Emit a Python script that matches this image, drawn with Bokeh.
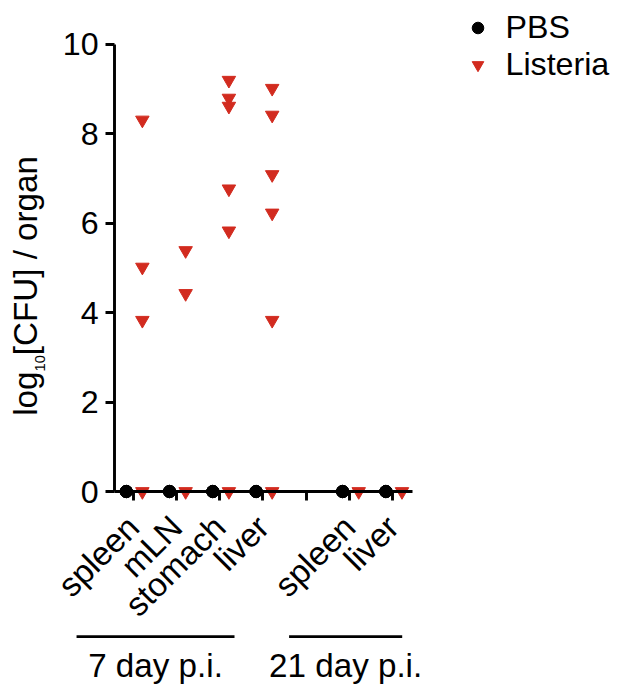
from math import pi
from bokeh.plotting import figure
from bokeh.models import Range1d, FixedTicker, Legend, LegendItem, Label
from bokeh.core.properties import value
from bokeh.embed import file_html
from bokeh.resources import INLINE

# ---------------- data ----------------
categories = ["spleen", "mLN", "stomach", "liver", "spleen", "liver"]
category_slots = [1, 2, 3, 4, 6, 7]          # slot 5 is the gap between time points
timepoints = ["7 day p.i.", "21 day p.i."]
pbs_log_cfu = [[0, 0, 0], [0, 0, 0], [0, 0, 0], [0, 0, 0], [0, 0, 0], [0, 0, 0]]
listeria_log_cfu = [
    [8.31, 5.02, 3.83, 0],
    [5.39, 4.43, 0],
    [9.20, 8.80, 8.62, 6.77, 5.83, 0],
    [9.02, 8.42, 7.09, 6.23, 3.83, 0],
    [0],
    [0],
]
y_ticks = [0, 2, 4, 6, 8, 10]

# ---------------- style / layout ----------------
FONT = "Liberation Sans"
RED = "#d22b1f"
W, H = 624, 684
S = 0.976                 # drawing scale (design is laid out on a 640 x 700 grid)
PX_PER_SLOT = 44.38       # design pixels per category slot
PX_PER_UNIT = 45.75       # design pixels per log10 unit
SLOT1_X = 136             # design x of slot 1
ZERO_Y = 502.5            # design y of value 0


def dx(design_x):
    return 1 + (design_x - SLOT1_X) / PX_PER_SLOT


def dy(design_y):
    return (ZERO_Y - design_y) / PX_PER_UNIT


def px(n):
    return f"{n * S:.1f}px"


X_START, X_END = dx(0), dx(640)
Y_END, Y_START = dy(0), dy(700)
YAXIS_X = dx(117)
XAXIS_END = dx(423)
PBS_DODGE, LIS_DODGE = -7 / PX_PER_SLOT, 9.5 / PX_PER_SLOT

p = figure(width=W, height=H,
           x_range=Range1d(X_START, X_END), y_range=Range1d(Y_START, Y_END),
           output_backend="svg", toolbar_location=None, min_border=0,
           outline_line_color=None)
p.grid.visible = False

pbs_x, pbs_y, lis_x, lis_y = [], [], [], []
for slot, pv, lv in zip(category_slots, pbs_log_cfu, listeria_log_cfu):
    pbs_x += [slot + PBS_DODGE] * len(pv)
    pbs_y += pv
    lis_x += [slot + LIS_DODGE] * len(lv)
    lis_y += lv

r_pbs = p.scatter(pbs_x, pbs_y, marker="circle", size=12.6 * S,
                  fill_color="black", line_color="black")
r_lis = p.scatter(lis_x, lis_y, marker="inverted_triangle", size=13.8 * S,
                  fill_color=RED, line_color=RED)

# y axis
yax = p.yaxis[0]
yax.ticker = FixedTicker(ticks=y_ticks)
yax.bounds = (0, 10)
yax.fixed_location = YAXIS_X
# x axis
xax = p.xaxis[0]
xax.ticker = FixedTicker(ticks=[1, 2, 3, 4, 5, 6, 7])
overrides = {5: ""}
for slot, name in zip(category_slots, categories):
    overrides[slot] = name
xax.major_label_overrides = overrides
xax.major_label_orientation = pi / 4
xax.bounds = (YAXIS_X, XAXIS_END)
xax.fixed_location = 0

for ax in (xax, yax):
    ax.axis_line_width = 3 * S
    ax.axis_line_color = "black"
    ax.major_tick_line_width = 3 * S
    ax.major_tick_line_color = "black"
    ax.major_tick_out = round(9 * S)
    ax.major_tick_in = 0
    ax.minor_tick_out = 0
    ax.minor_tick_in = 0
    ax.major_label_text_font = FONT
    ax.major_label_text_color = "black"
yax.major_label_text_font_size = px(33)
yax.major_label_standoff = round(7 * S)
xax.major_label_text_font_size = px(34)
xax.major_label_standoff = round(22 * S)

# y axis title with subscript, built from pieces
for txt, size, bx, by in [("log", 34, 26, 425),
                          ("10", 15, 41, 379.6),
                          ("[CFU] / organ", 34, 26, 363)]:
    p.add_layout(Label(x=dx(bx), y=dy(by), text=txt, angle=pi / 2,
                       text_font=FONT, text_font_size=px(size), text_color="black",
                       text_align="left", text_baseline="alphabetic"))

legend = Legend(items=[LegendItem(label="PBS", renderers=[r_pbs]),
                       LegendItem(label="Listeria", renderers=[r_lis])],
                location=(462.5, 601), border_line_color=None, background_fill_alpha=0,
                label_text_font=FONT, label_text_font_size=px(33), label_text_color="black",
                glyph_width=29, glyph_height=37, label_height=37,
                label_standoff=14, padding=0, margin=0, spacing=0)
p.add_layout(legend)

# time point groups below the axis
group_line_x0 = [dx(78), dx(296)]
group_line_x1 = [dx(240), dx(412)]
group_line_y = dy(651)
p.segment(x0=group_line_x0, x1=group_line_x1, y0=[group_line_y] * 2, y1=[group_line_y] * 2,
          line_width=3 * S, line_color="black")
p.text(x=[(a + b) / 2 for a, b in zip(group_line_x0, group_line_x1)], y=[dy(680.5)] * 2,
       text=timepoints, text_align="center", text_baseline="middle",
       text_font=value(FONT), text_font_size=px(34), text_color="black")

open("out.html", "w").write(file_html(p, INLINE))
